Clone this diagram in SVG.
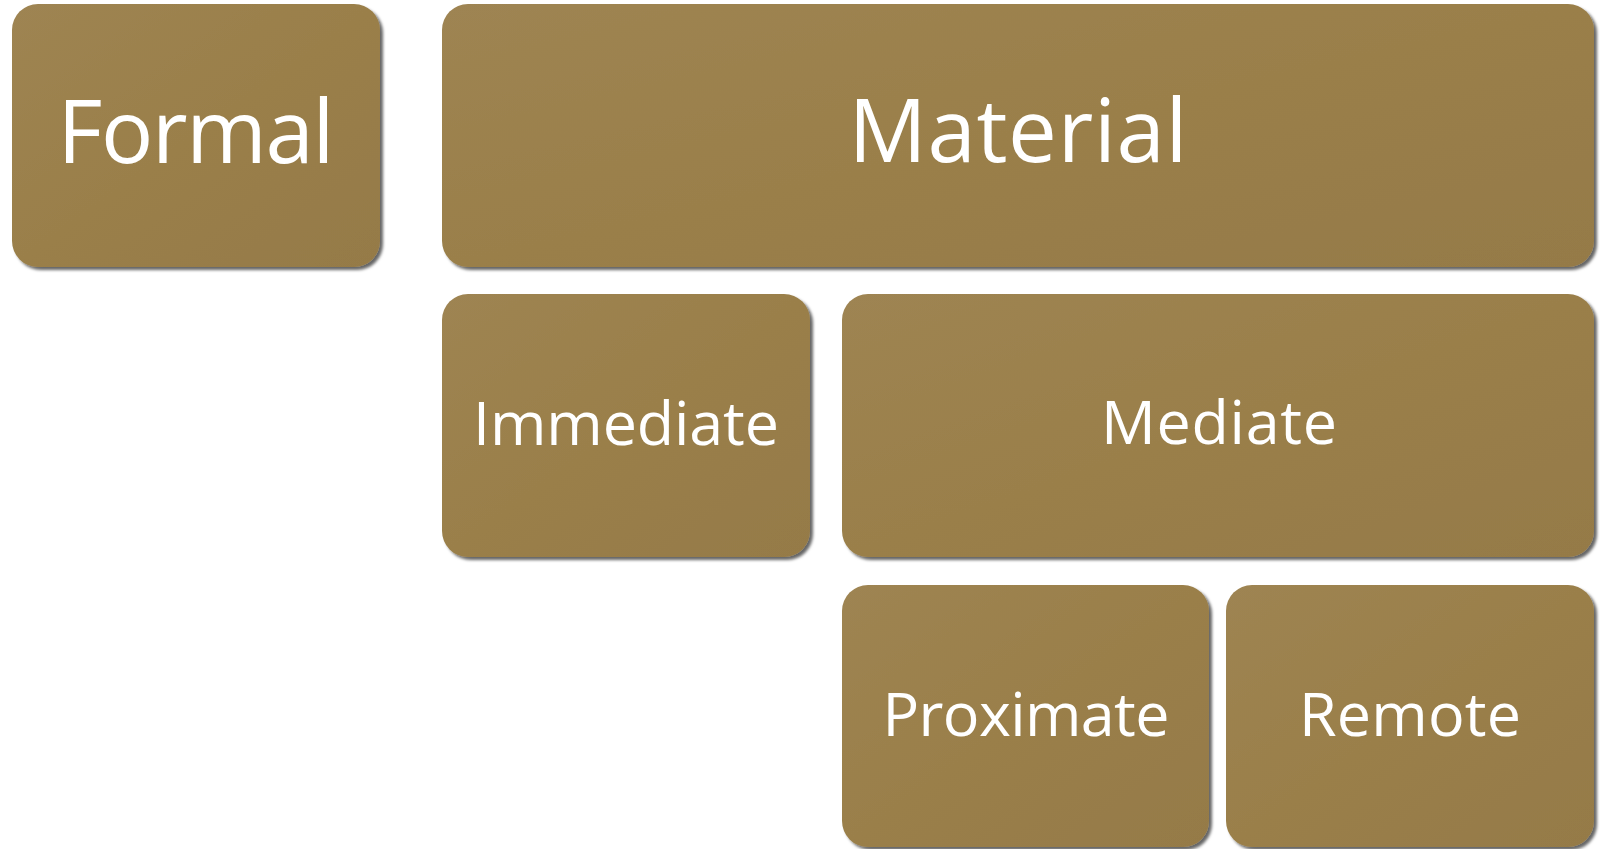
<svg xmlns="http://www.w3.org/2000/svg" width="1600" height="849" viewBox="0 0 1600 849">
  <defs>
    <linearGradient id="fillGrad" x1="0" y1="0" x2="1" y2="1">
      <stop offset="0" stop-color="#9E8452"/>
      <stop offset="0.5" stop-color="#9A7F4A"/>
      <stop offset="1" stop-color="#957A47"/>
    </linearGradient>
    <filter id="shadow" x="-5%" y="-5%" width="112%" height="115%">
      <feDropShadow dx="3" dy="3" stdDeviation="1.8" flood-color="#000" flood-opacity="0.6"/>
    </filter>
  </defs>
  <style>
    .box { fill: url(#fillGrad); filter: url(#shadow); }
    .lbl { fill: #FFFFFF; font-family: "Open Sans", "Noto Sans", "Liberation Sans", sans-serif; text-anchor: middle; }
    .big { font-size: 87px; }
    .small { font-size: 61px; }
  </style>
  <rect width="1600" height="849" fill="#FFFFFF"/>
  <g id="connectors"></g>
  <g id="node-formal">
    <rect class="box" x="12" y="4" width="368" height="263" rx="26" ry="26"/>
    <text class="lbl big" x="196" y="163" textLength="277">Formal</text>
  </g>
  <g id="node-material">
    <rect class="box" x="442" y="4" width="1152" height="263" rx="26" ry="26"/>
    <text class="lbl big" x="1018" y="162" textLength="339">Material</text>
  </g>
  <g id="node-immediate">
    <rect class="box" x="442" y="294" width="368" height="263" rx="26" ry="26"/>
    <text class="lbl small" x="626" y="445" textLength="306">Immediate</text>
  </g>
  <g id="node-mediate">
    <rect class="box" x="842" y="294" width="752" height="263" rx="26" ry="26"/>
    <text class="lbl small" x="1219" y="444" textLength="236">Mediate</text>
  </g>
  <g id="node-proximate">
    <rect class="box" x="842" y="585" width="367" height="262" rx="26" ry="26"/>
    <text class="lbl small" x="1026" y="736" textLength="287">Proximate</text>
  </g>
  <g id="node-remote">
    <rect class="box" x="1226" y="585" width="368" height="262" rx="26" ry="26"/>
    <text class="lbl small" x="1410" y="736" textLength="222">Remote</text>
  </g>
</svg>
